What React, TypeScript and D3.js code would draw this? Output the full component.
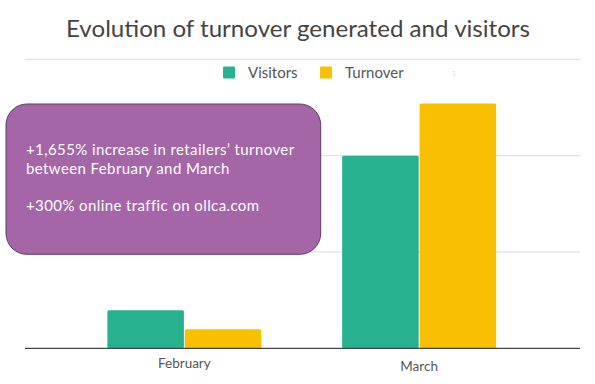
import * as d3 from "d3";

const categories = ["February", "March"];
const seriesNames = ["Visitors", "Turnover"];
const visitors = [0.395, 2.0];
const turnover = [0.197, 2.54];
const gridTicks = [0, 1, 2, 3];
const noteLines = [
  "+1,655% increase in retailers\u2019 turnover",
  "between February and March",
  "",
  "+300% online traffic on ollca.com",
];

const colors = ["#27b18f", "#f8c000"];

const width = 595;
const height = 384;
const FONT = "Lato, 'Open Sans', sans-serif";

export default function App() {
  const x0 = d3.scaleBand<string>().domain(categories).range([67, 536.5]).paddingInner(0.344).paddingOuter(0.172);
  const x1 = d3.scaleBand<string>().domain(seriesNames).range([0, x0.bandwidth()]).paddingInner(0.012);
  const y = d3.scaleLinear().domain([0, 3]).range([348.3, 59.3]);
  const values = [visitors, turnover];

  return (
    <svg width={width} height={height} style={{ position: "absolute", left: 0, top: 0, background: "#fff" }}>
      <text x={66} y={36.7} textLength={464} lengthAdjust="spacingAndGlyphs" fontFamily={FONT} fontSize={23.5} fill="#444">
        Evolution of turnover generated and visitors
      </text>

      {gridTicks.slice(1).map((t) => (
        <line key={t} x1={25} x2={580} y1={y(t)} y2={y(t)} stroke="#e2e2e2" strokeWidth={1.2} />
      ))}

      {/* legend */}
      {seriesNames.map((s, i) => {
        const lx = i === 0 ? 223 : 320;
        return (
          <g key={s}>
            <rect x={lx} y={66.5} width={12} height={12} fill={colors[i]} rx={1} />
            <text x={lx + 25} y={77.7} fontFamily={FONT} fontSize={15} fill="#555">{s}</text>
          </g>
        );
      })}
      <line x1={454} x2={454} y1={71} y2={76} stroke="#bbb" strokeWidth={1} strokeDasharray="1,1" />

      {/* bars */}
      {categories.map((c, ci) => (
        <g key={c} transform={`translate(${x0(c)},0)`}>
          {seriesNames.map((s, si) => {
            const v = values[si][ci];
            return (
              <rect
                key={s}
                x={x1(s)}
                y={y(v)}
                width={x1.bandwidth()}
                height={y(0) - y(v)}
                fill={colors[si]}
                rx={1.5}
              />
            );
          })}
        </g>
      ))}

      <line x1={25} x2={580} y1={y(0)} y2={y(0)} stroke="#444" strokeWidth={1.3} />

      {categories.map((c, i) => (
        <text
          key={c}
          x={(x0(c) ?? 0) + x0.bandwidth() / 2}
          y={i === 0 ? 368.3 : 371}
          textAnchor="middle"
          fontFamily={FONT}
          fontSize={13.5}
          fill="#555"
        >
          {c}
        </text>
      ))}

      {/* annotation box */}
      <rect x={6} y={104} width={314.7} height={150.3} rx={21} fill="#a566a8" stroke="#5d3b63" strokeWidth={1} />
      {noteLines.map((l, i) => (
        <text key={i} x={26} y={155 + i * 18.6} fontFamily={FONT} fontSize={15} letterSpacing={0.4} fill="#fff">
          {l}
        </text>
      ))}
    </svg>
  );
}
